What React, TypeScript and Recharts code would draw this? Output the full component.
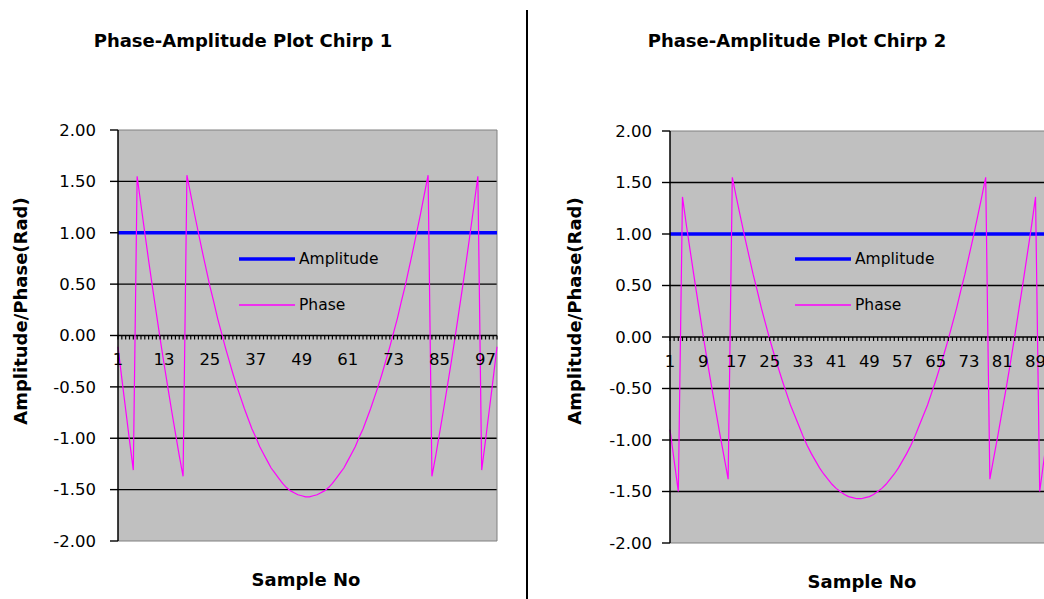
import React from "react";
import { CartesianGrid, Legend, Line, LineChart, ReferenceLine, XAxis, YAxis } from "recharts";

// chirp 1: 100 samples
const phase1 = [
  -0.11, -0.42, -0.72, -1.02, -1.31, 1.55, 1.27, 1.0, 0.73, 0.47,
  0.22, -0.03, -0.27, -0.5, -0.73, -0.95, -1.17, -1.37, 1.56, 1.37,
  1.18, 1.0, 0.82, 0.65, 0.48, 0.33, 0.17, 0.03, -0.11, -0.24,
  -0.37, -0.49, -0.6, -0.71, -0.81, -0.91, -0.99, -1.08, -1.15, -1.22,
  -1.29, -1.34, -1.39, -1.44, -1.48, -1.51, -1.53, -1.55, -1.56, -1.57,
  -1.57, -1.56, -1.55, -1.53, -1.51, -1.48, -1.44, -1.39, -1.34, -1.29,
  -1.22, -1.15, -1.08, -0.99, -0.91, -0.81, -0.71, -0.6, -0.49, -0.37,
  -0.24, -0.11, 0.03, 0.17, 0.33, 0.48, 0.65, 0.82, 1.0, 1.18,
  1.37, 1.56, -1.37, -1.17, -0.95, -0.73, -0.5, -0.27, -0.03, 0.22,
  0.47, 0.73, 1.0, 1.27, 1.55, -1.31, -1.02, -0.72, -0.42, -0.11,
];
const amplitude1 = [
  1, 1, 1, 1, 1, 1, 1, 1, 1, 1,
  1, 1, 1, 1, 1, 1, 1, 1, 1, 1,
  1, 1, 1, 1, 1, 1, 1, 1, 1, 1,
  1, 1, 1, 1, 1, 1, 1, 1, 1, 1,
  1, 1, 1, 1, 1, 1, 1, 1, 1, 1,
  1, 1, 1, 1, 1, 1, 1, 1, 1, 1,
  1, 1, 1, 1, 1, 1, 1, 1, 1, 1,
  1, 1, 1, 1, 1, 1, 1, 1, 1, 1,
  1, 1, 1, 1, 1, 1, 1, 1, 1, 1,
  1, 1, 1, 1, 1, 1, 1, 1, 1, 1,
];
const xLabels1 = [1, 13, 25, 37, 49, 61, 73, 85, 97];

// chirp 2: 92 samples (right end is cut off by the page)
const phase2 = [
  -0.9, -1.2, -1.5, 1.36, 1.07, 0.8, 0.53, 0.27, 0.01, -0.24,
  -0.48, -0.71, -0.94, -1.16, -1.38, 1.55, 1.35, 1.16, 0.97, 0.79,
  0.61, 0.45, 0.28, 0.13, -0.02, -0.16, -0.29, -0.42, -0.54, -0.66,
  -0.76, -0.86, -0.96, -1.05, -1.13, -1.2, -1.27, -1.33, -1.38, -1.43,
  -1.47, -1.5, -1.53, -1.55, -1.56, -1.57,
  -1.57, -1.56, -1.55, -1.53, -1.5, -1.47, -1.43, -1.38, -1.33, -1.27,
  -1.2, -1.13, -1.05, -0.96, -0.86, -0.76, -0.66, -0.54, -0.42, -0.29,
  -0.16, -0.02, 0.13, 0.28, 0.45, 0.61, 0.79, 0.97, 1.16, 1.35,
  1.55, -1.38, -1.16, -0.94, -0.71, -0.48, -0.24, 0.01, 0.27, 0.53,
  0.8, 1.07, 1.36, -1.5, -1.2, -0.9,
];
const amplitude2 = [
  1, 1, 1, 1, 1, 1, 1, 1, 1, 1,
  1, 1, 1, 1, 1, 1, 1, 1, 1, 1,
  1, 1, 1, 1, 1, 1, 1, 1, 1, 1,
  1, 1, 1, 1, 1, 1, 1, 1, 1, 1,
  1, 1, 1, 1, 1, 1,
  1, 1, 1, 1, 1, 1, 1, 1, 1, 1,
  1, 1, 1, 1, 1, 1, 1, 1, 1, 1,
  1, 1, 1, 1, 1, 1, 1, 1, 1, 1,
  1, 1, 1, 1, 1, 1, 1, 1, 1, 1,
  1, 1, 1, 1, 1, 1,
];
const xLabels2 = [1, 9, 17, 25, 33, 41, 49, 57, 65, 73, 81, 89];

const yTicks = [-2, -1.5, -1, -0.5, 0, 0.5, 1, 1.5, 2];
const gridValues = [-1.5, -1, -0.5, 0.5, 1, 1.5];

const FONT = "'DejaVu Sans', sans-serif";

function toRows(phase: number[], amplitude: number[]) {
  return phase.map((p, i) => ({ sample: i + 1, amplitude: amplitude[i], phase: p }));
}

function SampleTick({ x, payload, zeroY, labels }: any) {
  const show = labels.includes(payload.value);
  return (
    <g>
      <line x1={x} x2={x} y1={zeroY} y2={zeroY + 4} stroke="#000" strokeWidth={1.2} />
      {show && (
        <text x={x} y={zeroY + 24} dy="0.355em" textAnchor="middle" fontSize={16.5} fill="#000">
          {payload.value}
        </text>
      )}
    </g>
  );
}

function renderLegend({ payload }: any) {
  return (
    <div style={{ fontFamily: FONT }}>
      {(payload || []).map((entry: any) => (
        <div key={entry.value} style={{ display: "flex", alignItems: "center", height: 46 }}>
          <svg width={56} height={8}>
            <line
              x1={0}
              x2={56}
              y1={4}
              y2={4}
              stroke={entry.color}
              strokeWidth={entry.value === "Amplitude" ? 3.5 : 1.5}
            />
          </svg>
          <span style={{ marginLeft: 4, fontSize: 15.5, color: "#000" }}>{entry.value}</span>
        </div>
      ))}
    </div>
  );
}

function ChirpChart({
  rows,
  labels,
  width,
  top,
  bottom,
  right,
  axisWidth,
  labelGap,
  legendLeft,
}: any) {
  const height = 599;
  const plotH = height - top - bottom - 30;
  const zeroY = top + plotH / 2;
  const last = rows[rows.length - 1].sample;
  return (
    <LineChart width={width} height={height} data={rows} margin={{ top, right, bottom, left: 0 }}>
      <CartesianGrid
        vertical={false}
        horizontalValues={gridValues}
        stroke="#000"
        strokeWidth={1.4}
        fill="#C0C0C0"
        fillOpacity={1}
      />
      <ReferenceLine y={2} stroke="#808080" strokeWidth={1} />
      <ReferenceLine x={last} stroke="#808080" strokeWidth={1} />
      <ReferenceLine y={0} stroke="#000" strokeWidth={1.6} />
      <XAxis
        dataKey="sample"
        type="category"
        interval={0}
        height={30}
        axisLine={{ stroke: "#808080" }}
        tickLine={false}
        tick={<SampleTick zeroY={zeroY} labels={labels} />}
      />
      <YAxis
        domain={[-2, 2]}
        ticks={yTicks}
        interval={0}
        width={axisWidth}
        tickFormatter={(v: number) => v.toFixed(2)}
        axisLine={{ stroke: "#000", strokeWidth: 1.5 }}
        tickLine={{ stroke: "#000", strokeWidth: 1.4 }}
        tickSize={8}
        tickMargin={labelGap}
        tick={{ fill: "#000", fontSize: 16.5 }}
      />
      <Legend
        layout="vertical"
        align="center"
        verticalAlign="middle"
        content={renderLegend}
        wrapperStyle={{ left: legendLeft, top: 236, width: 170 }}
      />
      <Line
        dataKey="amplitude"
        name="Amplitude"
        stroke="#0000FF"
        strokeWidth={3.5}
        dot={false}
        isAnimationActive={false}
      />
      <Line
        dataKey="phase"
        name="Phase"
        stroke="#FF00FF"
        strokeWidth={1.2}
        dot={false}
        isAnimationActive={false}
      />
    </LineChart>
  );
}

const bold: React.CSSProperties = {
  position: "absolute",
  fontWeight: "bold",
  fontSize: 18,
  lineHeight: "20px",
  whiteSpace: "nowrap",
  color: "#000",
};

export default function App() {
  return (
    <div
      style={{
        position: "fixed",
        left: 0,
        top: 0,
        width: 1044,
        height: 599,
        overflow: "hidden",
        background: "#fff",
        fontFamily: FONT,
      }}
    >
      <div style={{ position: "absolute", left: 0, top: 0 }}>
        <ChirpChart
          rows={toRows(phase1, amplitude1)}
          labels={xLabels1}
          width={527}
          top={130}
          bottom={28}
          right={30}
          axisWidth={118}
          labelGap={14}
          legendLeft={239}
        />
      </div>
      <div style={{ position: "absolute", left: 553, top: 0 }}>
        <ChirpChart
          rows={toRows(phase2, amplitude2)}
          labels={xLabels2}
          width={520}
          top={131}
          bottom={26}
          right={25}
          axisWidth={117}
          labelGap={10}
          legendLeft={242}
        />
      </div>

      <div style={{ ...bold, left: 243, top: 31, transform: "translateX(-50%)" }}>
        Phase-Amplitude Plot Chirp 1
      </div>
      <div style={{ ...bold, left: 797, top: 31, transform: "translateX(-50%)" }}>
        Phase-Amplitude Plot Chirp 2
      </div>
      <div style={{ ...bold, left: 21, top: 311, transform: "translate(-50%, -50%) rotate(-90deg)" }}>
        Amplitude/Phase(Rad)
      </div>
      <div style={{ ...bold, left: 575, top: 311, transform: "translate(-50%, -50%) rotate(-90deg)" }}>
        Amplitude/Phase(Rad)
      </div>
      <div style={{ ...bold, left: 306, top: 570, transform: "translateX(-50%)" }}>Sample No</div>
      <div style={{ ...bold, left: 862, top: 572, transform: "translateX(-50%)" }}>Sample No</div>

      <div style={{ position: "absolute", left: 526, top: 10, width: 2, height: 589, background: "#000" }} />
    </div>
  );
}
